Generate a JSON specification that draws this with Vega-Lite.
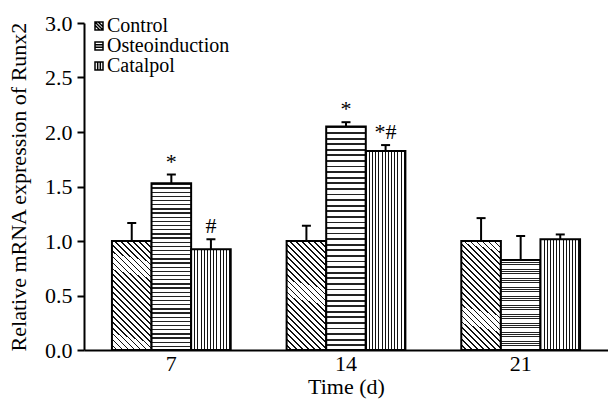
{
  "$schema": "https://vega.github.io/schema/vega-lite/v6.json",
  "width": 524,
  "height": 327,
  "autosize": "none",
  "padding": {"left": 84, "top": 23, "right": 0, "bottom": 52},
  "background": "white",
  "config": {
    "font": "Liberation Serif",
    "view": {"stroke": null},
    "axis": {"labelFont": "Liberation Serif", "titleFont": "Liberation Serif", "domainColor": "black", "domainWidth": 2, "tickColor": "black", "tickWidth": 2, "labelColor": "black", "titleColor": "black", "labelFontSize": 22, "titleFontSize": 22, "titleFontWeight": "normal", "grid": false},
    "legend": {"labelFont": "Liberation Serif"},
    "text": {"font": "Liberation Serif"}
  },
  "data": {
    "values": [
      {"time": "7", "group": "Control", "mean": 1.0, "upper": 1.165, "sig": ""},
      {"time": "7", "group": "Osteoinduction", "mean": 1.53, "upper": 1.61, "sig": "*"},
      {"time": "7", "group": "Catalpol", "mean": 0.924, "upper": 1.016, "sig": "#"},
      {"time": "14", "group": "Control", "mean": 1.0, "upper": 1.14, "sig": ""},
      {"time": "14", "group": "Osteoinduction", "mean": 2.05, "upper": 2.09, "sig": "*"},
      {"time": "14", "group": "Catalpol", "mean": 1.826, "upper": 1.88, "sig": "*#"},
      {"time": "21", "group": "Control", "mean": 1.0, "upper": 1.21, "sig": ""},
      {"time": "21", "group": "Osteoinduction", "mean": 0.826, "upper": 1.046, "sig": ""},
      {"time": "21", "group": "Catalpol", "mean": 1.016, "upper": 1.06, "sig": ""}
    ]
  },
  "encoding": {
    "x": {
      "field": "time", "type": "nominal", "sort": ["7", "14", "21"],
      "scale": {"paddingInner": 0.32, "paddingOuter": 0.16},
      "axis": {"title": "Time (d)", "labelAngle": 0, "ticks": false, "labelPadding": 3, "titlePadding": 2}
    },
    "xOffset": {
      "field": "group", "type": "nominal", "sort": ["Control", "Osteoinduction", "Catalpol"],
      "scale": {"paddingInner": 0, "paddingOuter": 0}
    }
  },
  "layer": [
    {
      "mark": {"type": "bar", "stroke": "black", "strokeWidth": 2},
      "encoding": {
        "y": {
          "field": "mean", "type": "quantitative",
          "scale": {"domain": [0, 3], "nice": false},
          "axis": {"title": "Relative mRNA expression of Runx2", "values": [0, 0.5, 1, 1.5, 2, 2.5, 3], "format": ".1f", "tickSize": 7, "labelPadding": 5, "titlePadding": 14}
        },
        "fill": {
          "condition": [
            {"test": "datum.group === 'Control'", "value": {"gradient": "linear", "x1": 1, "y1": 0, "x2": 0.567, "y2": 1.2035, "stops": [
                {"offset": 0, "color": "#111"}, {"offset": 0.012, "color": "#111"}, {"offset": 0.012, "color": "#fff"}, {"offset": 0.04, "color": "#fff"},
                {"offset": 0.04, "color": "#111"}, {"offset": 0.052, "color": "#111"}, {"offset": 0.052, "color": "#fff"}, {"offset": 0.08, "color": "#fff"},
                {"offset": 0.08, "color": "#111"}, {"offset": 0.092, "color": "#111"}, {"offset": 0.092, "color": "#fff"}, {"offset": 0.12, "color": "#fff"},
                {"offset": 0.12, "color": "#111"}, {"offset": 0.132, "color": "#111"}, {"offset": 0.132, "color": "#fff"}, {"offset": 0.16, "color": "#fff"},
                {"offset": 0.16, "color": "#111"}, {"offset": 0.172, "color": "#111"}, {"offset": 0.172, "color": "#fff"}, {"offset": 0.2, "color": "#fff"},
                {"offset": 0.2, "color": "#111"}, {"offset": 0.212, "color": "#111"}, {"offset": 0.212, "color": "#fff"}, {"offset": 0.24, "color": "#fff"},
                {"offset": 0.24, "color": "#111"}, {"offset": 0.252, "color": "#111"}, {"offset": 0.252, "color": "#fff"}, {"offset": 0.28, "color": "#fff"},
                {"offset": 0.28, "color": "#111"}, {"offset": 0.292, "color": "#111"}, {"offset": 0.292, "color": "#fff"}, {"offset": 0.32, "color": "#fff"},
                {"offset": 0.32, "color": "#111"}, {"offset": 0.332, "color": "#111"}, {"offset": 0.332, "color": "#fff"}, {"offset": 0.36, "color": "#fff"},
                {"offset": 0.36, "color": "#111"}, {"offset": 0.372, "color": "#111"}, {"offset": 0.372, "color": "#fff"}, {"offset": 0.4, "color": "#fff"},
                {"offset": 0.4, "color": "#111"}, {"offset": 0.412, "color": "#111"}, {"offset": 0.412, "color": "#fff"}, {"offset": 0.44, "color": "#fff"},
                {"offset": 0.44, "color": "#111"}, {"offset": 0.452, "color": "#111"}, {"offset": 0.452, "color": "#fff"}, {"offset": 0.48, "color": "#fff"},
                {"offset": 0.48, "color": "#111"}, {"offset": 0.492, "color": "#111"}, {"offset": 0.492, "color": "#fff"}, {"offset": 0.52, "color": "#fff"},
                {"offset": 0.52, "color": "#111"}, {"offset": 0.532, "color": "#111"}, {"offset": 0.532, "color": "#fff"}, {"offset": 0.56, "color": "#fff"},
                {"offset": 0.56, "color": "#111"}, {"offset": 0.572, "color": "#111"}, {"offset": 0.572, "color": "#fff"}, {"offset": 0.6, "color": "#fff"},
                {"offset": 0.6, "color": "#111"}, {"offset": 0.612, "color": "#111"}, {"offset": 0.612, "color": "#fff"}, {"offset": 0.64, "color": "#fff"},
                {"offset": 0.64, "color": "#111"}, {"offset": 0.652, "color": "#111"}, {"offset": 0.652, "color": "#fff"}, {"offset": 0.68, "color": "#fff"},
                {"offset": 0.68, "color": "#111"}, {"offset": 0.692, "color": "#111"}, {"offset": 0.692, "color": "#fff"}, {"offset": 0.72, "color": "#fff"},
                {"offset": 0.72, "color": "#111"}, {"offset": 0.732, "color": "#111"}, {"offset": 0.732, "color": "#fff"}, {"offset": 0.76, "color": "#fff"},
                {"offset": 0.76, "color": "#111"}, {"offset": 0.772, "color": "#111"}, {"offset": 0.772, "color": "#fff"}, {"offset": 0.8, "color": "#fff"},
                {"offset": 0.8, "color": "#111"}, {"offset": 0.812, "color": "#111"}, {"offset": 0.812, "color": "#fff"}, {"offset": 0.84, "color": "#fff"},
                {"offset": 0.84, "color": "#111"}, {"offset": 0.852, "color": "#111"}, {"offset": 0.852, "color": "#fff"}, {"offset": 0.88, "color": "#fff"},
                {"offset": 0.88, "color": "#111"}, {"offset": 0.892, "color": "#111"}, {"offset": 0.892, "color": "#fff"}, {"offset": 0.92, "color": "#fff"},
                {"offset": 0.92, "color": "#111"}, {"offset": 0.932, "color": "#111"}, {"offset": 0.932, "color": "#fff"}, {"offset": 0.96, "color": "#fff"},
                {"offset": 0.96, "color": "#111"}, {"offset": 0.972, "color": "#111"}, {"offset": 0.972, "color": "#fff"}, {"offset": 1, "color": "#fff"}
              ]}},
            {"test": "datum.group === 'Osteoinduction'", "value": {"gradient": "linear", "x1": 0, "y1": 0, "x2": 0, "y2": 1, "stops": [
                {"offset": 0, "color": "#222"}, {"offset": 0.008, "color": "#222"}, {"offset": 0.008, "color": "#fff"}, {"offset": 0.025, "color": "#fff"},
                {"offset": 0.025, "color": "#222"}, {"offset": 0.033, "color": "#222"}, {"offset": 0.033, "color": "#fff"}, {"offset": 0.05, "color": "#fff"},
                {"offset": 0.05, "color": "#222"}, {"offset": 0.058, "color": "#222"}, {"offset": 0.058, "color": "#fff"}, {"offset": 0.075, "color": "#fff"},
                {"offset": 0.075, "color": "#222"}, {"offset": 0.083, "color": "#222"}, {"offset": 0.083, "color": "#fff"}, {"offset": 0.1, "color": "#fff"},
                {"offset": 0.1, "color": "#222"}, {"offset": 0.108, "color": "#222"}, {"offset": 0.108, "color": "#fff"}, {"offset": 0.125, "color": "#fff"},
                {"offset": 0.125, "color": "#222"}, {"offset": 0.133, "color": "#222"}, {"offset": 0.133, "color": "#fff"}, {"offset": 0.15, "color": "#fff"},
                {"offset": 0.15, "color": "#222"}, {"offset": 0.158, "color": "#222"}, {"offset": 0.158, "color": "#fff"}, {"offset": 0.175, "color": "#fff"},
                {"offset": 0.175, "color": "#222"}, {"offset": 0.183, "color": "#222"}, {"offset": 0.183, "color": "#fff"}, {"offset": 0.2, "color": "#fff"},
                {"offset": 0.2, "color": "#222"}, {"offset": 0.208, "color": "#222"}, {"offset": 0.208, "color": "#fff"}, {"offset": 0.225, "color": "#fff"},
                {"offset": 0.225, "color": "#222"}, {"offset": 0.233, "color": "#222"}, {"offset": 0.233, "color": "#fff"}, {"offset": 0.25, "color": "#fff"},
                {"offset": 0.25, "color": "#222"}, {"offset": 0.258, "color": "#222"}, {"offset": 0.258, "color": "#fff"}, {"offset": 0.275, "color": "#fff"},
                {"offset": 0.275, "color": "#222"}, {"offset": 0.283, "color": "#222"}, {"offset": 0.283, "color": "#fff"}, {"offset": 0.3, "color": "#fff"},
                {"offset": 0.3, "color": "#222"}, {"offset": 0.308, "color": "#222"}, {"offset": 0.308, "color": "#fff"}, {"offset": 0.325, "color": "#fff"},
                {"offset": 0.325, "color": "#222"}, {"offset": 0.333, "color": "#222"}, {"offset": 0.333, "color": "#fff"}, {"offset": 0.35, "color": "#fff"},
                {"offset": 0.35, "color": "#222"}, {"offset": 0.358, "color": "#222"}, {"offset": 0.358, "color": "#fff"}, {"offset": 0.375, "color": "#fff"},
                {"offset": 0.375, "color": "#222"}, {"offset": 0.383, "color": "#222"}, {"offset": 0.383, "color": "#fff"}, {"offset": 0.4, "color": "#fff"},
                {"offset": 0.4, "color": "#222"}, {"offset": 0.408, "color": "#222"}, {"offset": 0.408, "color": "#fff"}, {"offset": 0.425, "color": "#fff"},
                {"offset": 0.425, "color": "#222"}, {"offset": 0.433, "color": "#222"}, {"offset": 0.433, "color": "#fff"}, {"offset": 0.45, "color": "#fff"},
                {"offset": 0.45, "color": "#222"}, {"offset": 0.458, "color": "#222"}, {"offset": 0.458, "color": "#fff"}, {"offset": 0.475, "color": "#fff"},
                {"offset": 0.475, "color": "#222"}, {"offset": 0.483, "color": "#222"}, {"offset": 0.483, "color": "#fff"}, {"offset": 0.5, "color": "#fff"},
                {"offset": 0.5, "color": "#222"}, {"offset": 0.508, "color": "#222"}, {"offset": 0.508, "color": "#fff"}, {"offset": 0.525, "color": "#fff"},
                {"offset": 0.525, "color": "#222"}, {"offset": 0.533, "color": "#222"}, {"offset": 0.533, "color": "#fff"}, {"offset": 0.55, "color": "#fff"},
                {"offset": 0.55, "color": "#222"}, {"offset": 0.558, "color": "#222"}, {"offset": 0.558, "color": "#fff"}, {"offset": 0.575, "color": "#fff"},
                {"offset": 0.575, "color": "#222"}, {"offset": 0.583, "color": "#222"}, {"offset": 0.583, "color": "#fff"}, {"offset": 0.6, "color": "#fff"},
                {"offset": 0.6, "color": "#222"}, {"offset": 0.608, "color": "#222"}, {"offset": 0.608, "color": "#fff"}, {"offset": 0.625, "color": "#fff"},
                {"offset": 0.625, "color": "#222"}, {"offset": 0.633, "color": "#222"}, {"offset": 0.633, "color": "#fff"}, {"offset": 0.65, "color": "#fff"},
                {"offset": 0.65, "color": "#222"}, {"offset": 0.658, "color": "#222"}, {"offset": 0.658, "color": "#fff"}, {"offset": 0.675, "color": "#fff"},
                {"offset": 0.675, "color": "#222"}, {"offset": 0.683, "color": "#222"}, {"offset": 0.683, "color": "#fff"}, {"offset": 0.7, "color": "#fff"},
                {"offset": 0.7, "color": "#222"}, {"offset": 0.708, "color": "#222"}, {"offset": 0.708, "color": "#fff"}, {"offset": 0.725, "color": "#fff"},
                {"offset": 0.725, "color": "#222"}, {"offset": 0.733, "color": "#222"}, {"offset": 0.733, "color": "#fff"}, {"offset": 0.75, "color": "#fff"},
                {"offset": 0.75, "color": "#222"}, {"offset": 0.758, "color": "#222"}, {"offset": 0.758, "color": "#fff"}, {"offset": 0.775, "color": "#fff"},
                {"offset": 0.775, "color": "#222"}, {"offset": 0.783, "color": "#222"}, {"offset": 0.783, "color": "#fff"}, {"offset": 0.8, "color": "#fff"},
                {"offset": 0.8, "color": "#222"}, {"offset": 0.808, "color": "#222"}, {"offset": 0.808, "color": "#fff"}, {"offset": 0.825, "color": "#fff"},
                {"offset": 0.825, "color": "#222"}, {"offset": 0.833, "color": "#222"}, {"offset": 0.833, "color": "#fff"}, {"offset": 0.85, "color": "#fff"},
                {"offset": 0.85, "color": "#222"}, {"offset": 0.858, "color": "#222"}, {"offset": 0.858, "color": "#fff"}, {"offset": 0.875, "color": "#fff"},
                {"offset": 0.875, "color": "#222"}, {"offset": 0.883, "color": "#222"}, {"offset": 0.883, "color": "#fff"}, {"offset": 0.9, "color": "#fff"},
                {"offset": 0.9, "color": "#222"}, {"offset": 0.908, "color": "#222"}, {"offset": 0.908, "color": "#fff"}, {"offset": 0.925, "color": "#fff"},
                {"offset": 0.925, "color": "#222"}, {"offset": 0.933, "color": "#222"}, {"offset": 0.933, "color": "#fff"}, {"offset": 0.95, "color": "#fff"},
                {"offset": 0.95, "color": "#222"}, {"offset": 0.958, "color": "#222"}, {"offset": 0.958, "color": "#fff"}, {"offset": 0.975, "color": "#fff"},
                {"offset": 0.975, "color": "#222"}, {"offset": 0.983, "color": "#222"}, {"offset": 0.983, "color": "#fff"}, {"offset": 1, "color": "#fff"}
              ]}}
          ],
          "value": {"gradient": "linear", "x1": 0, "y1": 0, "x2": 1, "y2": 0, "stops": [
                {"offset": 0, "color": "#111"}, {"offset": 0.025, "color": "#111"}, {"offset": 0.025, "color": "#fff"}, {"offset": 0.08, "color": "#fff"},
                {"offset": 0.08, "color": "#111"}, {"offset": 0.105, "color": "#111"}, {"offset": 0.105, "color": "#fff"}, {"offset": 0.16, "color": "#fff"},
                {"offset": 0.16, "color": "#111"}, {"offset": 0.185, "color": "#111"}, {"offset": 0.185, "color": "#fff"}, {"offset": 0.24, "color": "#fff"},
                {"offset": 0.24, "color": "#111"}, {"offset": 0.265, "color": "#111"}, {"offset": 0.265, "color": "#fff"}, {"offset": 0.32, "color": "#fff"},
                {"offset": 0.32, "color": "#111"}, {"offset": 0.345, "color": "#111"}, {"offset": 0.345, "color": "#fff"}, {"offset": 0.4, "color": "#fff"},
                {"offset": 0.4, "color": "#111"}, {"offset": 0.425, "color": "#111"}, {"offset": 0.425, "color": "#fff"}, {"offset": 0.48, "color": "#fff"},
                {"offset": 0.48, "color": "#111"}, {"offset": 0.505, "color": "#111"}, {"offset": 0.505, "color": "#fff"}, {"offset": 0.56, "color": "#fff"},
                {"offset": 0.56, "color": "#111"}, {"offset": 0.585, "color": "#111"}, {"offset": 0.585, "color": "#fff"}, {"offset": 0.64, "color": "#fff"},
                {"offset": 0.64, "color": "#111"}, {"offset": 0.665, "color": "#111"}, {"offset": 0.665, "color": "#fff"}, {"offset": 0.72, "color": "#fff"},
                {"offset": 0.72, "color": "#111"}, {"offset": 0.745, "color": "#111"}, {"offset": 0.745, "color": "#fff"}, {"offset": 0.8, "color": "#fff"},
                {"offset": 0.8, "color": "#111"}, {"offset": 0.825, "color": "#111"}, {"offset": 0.825, "color": "#fff"}, {"offset": 0.88, "color": "#fff"},
                {"offset": 0.88, "color": "#111"}, {"offset": 0.905, "color": "#111"}, {"offset": 0.905, "color": "#fff"}, {"offset": 0.96, "color": "#fff"},
                {"offset": 0.96, "color": "#111"}, {"offset": 0.985, "color": "#111"}, {"offset": 0.985, "color": "#fff"}, {"offset": 1, "color": "#fff"}
              ]}
        }
      }
    },
    {
      "mark": {"type": "point", "opacity": 0},
      "encoding": {
        "y": {"field": "mean", "type": "quantitative"},
        "shape": {
          "field": "group", "type": "nominal",
          "scale": {
            "domain": ["Control", "Osteoinduction", "Catalpol"],
            "range": [
              "M-1,-1H1V1H-1Z M-1,-0.2L0.2,1 M-0.2,-1L1,0.2 M-1,-1L1,1",
              "M-1,-1H1V1H-1Z M-1,-0.33H1 M-1,0.33H1",
              "M-1,-1H1V1H-1Z M-0.33,-1V1 M0.33,-1V1"
            ]
          },
          "legend": {
            "title": null, "orient": "none", "legendX": 5, "legendY": -7,
            "symbolSize": 64, "symbolStrokeWidth": 1.5, "symbolStrokeColor": "black", "symbolFillColor": "white", "symbolOpacity": 1,
            "labelFont": "Liberation Serif", "labelFontSize": 20, "labelColor": "black", "labelOffset": -2, "rowPadding": 0, "padding": 0, "labelLimit": 300
          }
        }
      }
    },
    {
      "mark": {"type": "rule", "strokeWidth": 2, "color": "black"},
      "encoding": {"y": {"field": "mean", "type": "quantitative"}, "y2": {"field": "upper"}}
    },
    {
      "mark": {"type": "tick", "thickness": 2, "color": "black", "size": 9, "opacity": 1},
      "encoding": {"y": {"field": "upper", "type": "quantitative"}}
    },
    {
      "mark": {"type": "text", "baseline": "bottom", "font": "Liberation Serif", "fontSize": 22, "dy": -1, "color": "black"},
      "encoding": {"y": {"field": "upper", "type": "quantitative"}, "text": {"field": "sig"}}
    }
  ]
}
